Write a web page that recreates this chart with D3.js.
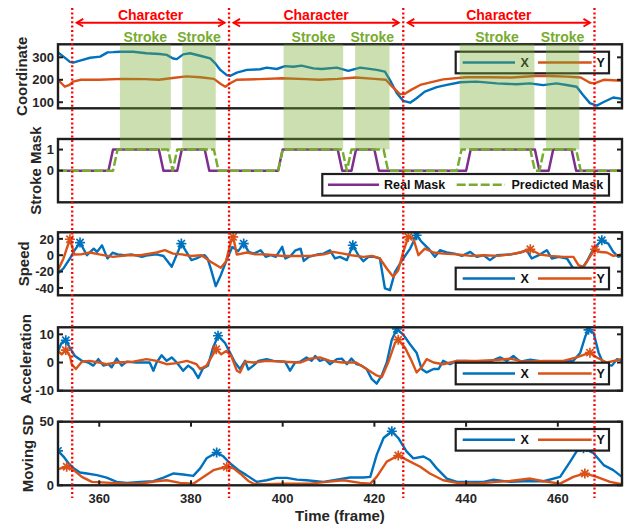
<!DOCTYPE html>
<html>
<head>
<meta charset="utf-8">
<script src="https://cdn.jsdelivr.net/npm/d3@7"></script>
<style>
  body { margin: 0; background: #fff; }
  svg { display: block; font-family: "Liberation Sans", Arial, sans-serif; font-weight: bold; }
</style>
</head>
<body>
<svg id="chart" width="631" height="529"></svg>
<script>
// ---- data: [frame, value] pairs ----
const frame_domain = [351, 474];
const frame_ticks = [360, 380, 400, 420, 440, 460];
const character_bounds = [354.1, 388.3, 426.3, 468];
const stroke_spans = [[364.5, 375.6], [378.1, 385.4], [400.2, 413.2], [415.8, 423.3], [438.6, 454.9], [457.4, 464.7]];

const coord_domain = [73, 358];
const coord_ticks = [100, 200, 300];
const coord_x = [[351,322],[352.2,303],[353.6,280],[354.3,276],[355.8,285],[358,298],[360.2,303],[361.8,322],[363,323],[364.5,325],[367.4,325],[370.3,318],[373.2,315],[374.7,311],[376.1,295],[376.9,292],[378.3,313],[379.8,318],[382,307],[384.2,295],[385.3,273],[386.4,244],[387.8,221],[388.5,217],[390,232],[392.2,244],[395.1,247],[396.5,254],[398.7,248],[400.5,261],[402.3,258],[404.1,263],[406.7,251],[408.5,248],[411.8,254],[414.3,240],[416.9,254],[420.5,244],[422.3,236],[423.4,199],[424.9,140],[426.3,106],[427.8,98],[429.2,118],[431,147],[433.6,167],[435.8,177],[438.7,189],[442.3,192],[446.7,184],[451,180],[453.9,184],[456.8,176],[459.7,184],[461.9,177],[464.1,169],[465.5,132],[467,96],[468.5,85],[469.9,100],[472.1,121],[474,115]];
const coord_y = [[351,200],[352.5,169],[353.5,177],[354.3,192],[356,200],[360,200],[365,204],[370,203],[373,200],[376,208],[379,215],[382,211],[385,204],[386.5,181],[387.5,169],[388.5,184],[390,200],[395,203],[400,207],[405,203],[408,200],[412,204],[416,210],[420,204],[422.5,200],[424,167],[425.5,137],[426.5,136],[428,155],[430,177],[432,187],[435,202],[440,211],[445,211],[450,210],[455,217],[458,217],[462,214],[465,210],[467,187],[468,184],[470,200],[474,196]];

const mask_domain = [-1.5, 1.5];
const mask_ticks = [0, 1];
const real_mask = [[351,0],[362,0],[363,1],[373,1],[374,0],[377,0],[378,1],[383,1],[384,0],[399,0],[400,1],[412,1],[413,0],[415,0],[416,1],[420,1],[421,0],[440,0],[441,1],[455,1],[456,0],[458,0],[459,1],[463,1],[464,0],[474,0]];
const predicted_mask = [[351,0],[363,0],[364,1],[375,1],[376,0],[377,1],[385,1],[386,0],[399,0],[400,1],[413,1],[414,0],[415,1],[422,1],[423,0],[438,0],[439,1],[454,1],[455,0],[456,0],[457,1],[464,1],[465,0],[474,0]];

const speed_domain = [-49, 28];
const speed_ticks = [-40, -20, 0, 20];
const speed_x = [[351,-22.3],[352.2,-16],[352.9,-10],[353.6,-4],[354.5,5],[355.8,15.5],[357.3,0],[358.8,8],[359.5,4],[360.6,12],[361.8,-4],[362.9,3],[364,1],[365.5,0],[367,1],[369.3,-2],[370.7,0],[372.5,1],[374,-1],[375.8,-14.2],[377.9,14.2],[379,4],[380.1,-6],[381.2,-4],[382.3,-1],[383,0],[383.6,-4],[384.3,-16],[385.4,-37.8],[386.5,-24.4],[387.9,-4],[389,10],[390.3,5],[391.5,14.2],[392.6,4],[393.7,2],[395.2,6.1],[396.3,-2],[397.4,0],[398.5,-2],[399.9,10.2],[400.6,-4],[401.7,-1],[402.8,6],[403.9,8],[404.6,-7],[405.7,-2],[407.5,0.8],[408.9,2],[410.3,6.1],[411.4,-4],[412.5,-2],[414,-6],[415.3,12.2],[416.5,0],[417.6,-7.3],[418.7,-2],[420,-2],[421.2,-4],[422.3,-40.6],[423.4,-42.7],[424.5,-20.3],[426.3,-4],[427.8,8.1],[429.2,24.4],[430.3,16.3],[431.8,8.1],[433.2,-2],[434.3,6.1],[435.8,3.3],[437.5,2],[439.1,-0.8],[440.9,4],[442.3,-2],[443.8,0],[445.2,-6],[446.7,0],[449.6,0.8],[451.8,3.3],[453.2,6.1],[454.3,-4],[456.1,0.8],[457.6,6.1],[458.7,-4],[460.2,-2],[462,-4],[463.4,-16.3],[464.8,-20],[466.3,-8],[467.8,8.1],[469.6,18.3],[471,14.2],[472.1,4],[473.2,-2],[474,0]];
const speed_y = [[351,-18.3],[352.2,-4],[352.9,8],[353.6,19.5],[354.6,0.8],[356,1],[358,3.3],[360,1],[363,-2],[366,0],[369,0],[372.5,3.3],[374.3,6.1],[376.1,2],[378,1],[380,-1],[382.3,0],[384.3,-8],[386.5,-15.4],[387.6,-8],[388.7,16.3],[389.2,22.4],[390,0.8],[392.2,3.3],[394,1],[396.5,1],[400,-1],[403.8,-1],[406,-0.8],[409,1],[411,4],[413.2,2],[415,0],[417.6,-2],[419.5,-0.8],[421.2,-4],[422.7,-16.3],[424.1,-26.4],[425.2,-18.3],[426.3,4],[427.4,22.4],[428.5,20.3],[429.6,0],[431,8.1],[432.9,3.3],[435,2],[438,1],[441,-0.8],[444,0],[447,-0.8],[449.6,1],[451.8,3.3],[454,7.3],[456.1,0.8],[458.3,-0.8],[461.2,-2],[463.4,-2],[464.5,-12.2],[465.6,-14.2],[467,-2],[468.1,7.3],[469.2,4],[470.7,3.3],[472.1,-0.8],[474,0.8]];
const speed_peaks_x = [[355.8,15.5],[377.9,14.2],[391.5,14.2],[415.3,12.2],[429.2,24.4],[469.6,18.3]];
const speed_peaks_y = [[353.6,19.5],[389.2,22.4],[427.4,22.4],[454,7.3],[468.1,7.3]];

const accel_domain = [-10, 12.5];
const accel_ticks = [-10, 0, 10];
const accel_x = [[351,4.1],[351.8,7],[352.7,7.9],[353.6,5.2],[354.7,2.3],[356.2,0.6],[357.6,0],[358.7,-1.1],[359.8,1.2],[360.9,-1.1],[362,-0.6],[362.7,-1.7],[363.8,1.4],[364.9,-1.1],[366,0.3],[368,0],[371,0],[371.8,-2.9],[372.5,0],[373.6,2.6],[374.7,0.6],[375.8,1.8],[376.9,0],[378.3,-2.9],[379.4,-1.1],[380.5,-2.5],[381.6,-5.5],[382.6,-2.1],[383.7,-1.1],[384.8,5.2],[385.9,9.5],[387.4,7],[388.5,3.5],[389.6,0],[390.7,-2.3],[391.8,0.6],[392.5,-2.5],[393.6,-1.1],[394.7,0.6],[396.5,1.2],[398,0.6],[400.5,0.3],[401.6,-2.9],[402.7,0],[403.8,0.3],[405.2,1.8],[406.3,0.6],[407.1,2.3],[408.1,0.6],[409.2,1.2],[410.3,-0.6],[411.8,1.2],[412.9,1.4],[414,-0.6],[415,1.4],[416.1,-0.6],[417.2,-1.1],[418.3,-2.3],[419.4,-5.8],[420.5,-7.5],[421.6,-4.6],[422.7,0],[423.8,8.1],[424.9,11.9],[426.3,9.9],[427.8,6.4],[429.2,3.5],[430.3,-2.3],[431.4,-3.5],[432.9,-2.3],[434,-2.3],[435,0.6],[436.5,-0.6],[438,0.6],[440.1,0.6],[442.3,0.3],[445.2,0.3],[447.4,1.8],[448.9,0.6],[450.3,2.3],[451.8,0.3],[454,1],[456.9,0.3],[459.8,0.3],[463.4,0.6],[464.9,3.5],[466,9.3],[466.7,11.6],[467.8,10.5],[468.9,3.5],[470,-0.6],[471.8,-1.1],[472.9,1.2],[474,0.6]];
const accel_y = [[351,4.1],[351.8,2.9],[352.7,4.4],[353.6,2.3],[354,-0.6],[354.9,-2.3],[356.2,0.3],[357.8,0.6],[360,0],[361.5,-0.6],[363.8,0],[367.4,0.3],[370.3,1.2],[372.5,0.6],[374.7,-0.6],[376.9,-0.2],[379.1,0.6],[381.2,-0.6],[382,-2.3],[383.4,-1.1],[384.8,2.9],[385.5,4.7],[386.6,2.9],[387.7,4.1],[388.8,2.3],[390,-2.9],[390.7,-3.5],[391.8,0.3],[393.6,0],[396.5,0.6],[400.1,0.3],[403.8,0],[406,1.4],[408.1,1.8],[410.3,0.6],[413,0],[416,0],[418.3,-2.3],[420.5,-4.6],[421.6,-5.2],[423,0],[424.5,7],[425.2,8.1],[426.7,5.2],[428.1,0.6],[429.2,-3.5],[430.3,-1.7],[431.4,1.2],[432.9,0],[435,-0.6],[438,0.6],[442.3,0.6],[446.7,0.9],[449.6,1.4],[452.5,0.3],[456.9,0.6],[461.2,0.6],[464.1,1.8],[467,3.5],[468.5,1.8],[470.7,0],[474,1.2]];
const accel_peaks_x = [[352.7,7.9],[385.9,9.5],[424.9,11.9],[466.7,11.6]];
const accel_peaks_y = [[352.7,4.4],[385.5,4.7],[425.2,8.1],[467,3.5]];

const sd_domain = [0, 50];
const sd_ticks = [0, 50];
const sd_x = [[351,27.1],[352.2,22.6],[353.3,17.3],[354.4,13.3],[355.8,10.1],[357.3,9.3],[359.5,8],[361.6,6.1],[363.8,2.7],[366,1.9],[368.9,2.7],[371.8,3.2],[374,6.1],[376.2,9.3],[378.3,8.5],[380.5,7.4],[382,13.3],[383.4,21.2],[385.6,25.8],[387.1,22.6],[388.5,17.3],[390.3,12],[392.1,8],[394.3,2.7],[396.5,4],[398.7,5.8],[400.9,5.8],[403.1,4.5],[405.2,4],[408.9,2.7],[411.8,4.5],[414.7,6.1],[417.6,6.1],[419.1,6.6],[420.5,23.9],[422,37.2],[423.8,42.5],[425.2,37.2],[427,26.6],[428.5,21.2],[430.7,22.6],[432.1,19.9],[433.6,13.3],[435.8,5.3],[438,2.7],[440.9,2.7],[443.8,2.7],[446,4.5],[449.6,2.7],[452.5,3.2],[456.9,3.2],[460.5,6.6],[462.7,18.6],[464.1,26.6],[465.6,29.2],[467.8,25.2],[470,15.9],[472.1,11.9],[474,6.6]];
const sd_y = [[351,12.7],[352.9,14.6],[354.4,11.9],[356.2,6.6],[358.4,2.7],[361.6,2.1],[365.3,1.3],[368.9,1.3],[372.5,3.2],[374.7,4],[377.6,1.9],[380.5,1.3],[382.7,6.6],[384.9,11.9],[387.8,14.6],[389.3,13.3],[390.7,9.3],[392.5,3.4],[393.9,0.8],[396.5,0.8],[400.1,1.3],[403.8,1.3],[406,1.3],[409.6,2.7],[413.2,4],[416.9,1.9],[419.1,1.3],[420.5,6.6],[422.7,18.6],[425.2,23.4],[427.8,18.6],[430,14.6],[432.1,9.3],[435,4],[438,1.9],[442.3,1.3],[446.7,2.7],[449.6,3.4],[454,5.3],[456.9,3.2],[460.5,1.3],[463.4,6.6],[465.9,9.3],[468.5,6.6],[471.4,2.7],[474,0.8]];
const sd_peaks_x = [[351,27.1],[385.6,25.8],[423.8,42.5],[465.6,29.2]];
const sd_peaks_y = [[352.9,14.6],[387.8,14.6],[425.2,23.4],[465.9,9.3]];

;((d3) => {

    'use strict';

    const BLUE = '#0072bd';
    const ORANGE = '#d95319';
    const PURPLE = '#7e2f8e';
    const GREEN = '#77ac30';
    const RED = '#ff0000';
    const INK = '#1e1e1e';

    const svg = d3.select('#chart');
    const x = d3.scaleLinear().domain(frame_domain).range([58, 622]);
    const line_for = (y) => d3.line().x(d => x(d[0])).y(d => y(d[1]));

    const xy_legend = [
        { name: 'X', color: BLUE, x0: 462.7, x1: 515, tx: 520.5 },
        { name: 'Y', color: ORANGE, x0: 538, x1: 591.7, tx: 596.5 }
    ];

    const panels = [
        { id: 'coord', top: 44.3, bottom: 108.3, domain: coord_domain, ticks: coord_ticks, label: 'Coordinate', label_x: 22,
          series: [{ data: coord_x, color: BLUE }, { data: coord_y, color: ORANGE }],
          legend: { top: 51.7, left: 455.7, right: 609, entries: xy_legend } },
        { id: 'mask', top: 139, bottom: 202.3, domain: mask_domain, ticks: mask_ticks, label: 'Stroke Mask', label_x: 36,
          series: [{ data: real_mask, color: PURPLE, width: 2.5 }, { data: predicted_mask, color: GREEN, width: 2.5, dash: '9,3' }],
          legend: { top: 174, left: 322.3, right: 609, entries: [
              { name: 'Real Mask', color: PURPLE, x0: 328, x1: 379, tx: 384 },
              { name: 'Predicted Mask', color: GREEN, x0: 456.7, x1: 505, tx: 511.5, dash: '9,3' }
          ] } },
        { id: 'speed', top: 232.3, bottom: 295.3, domain: speed_domain, ticks: speed_ticks, label: 'Speed', label_x: 24,
          series: [{ data: speed_x, color: BLUE, peaks: speed_peaks_x }, { data: speed_y, color: ORANGE, peaks: speed_peaks_y }],
          legend: { top: 267.7, left: 455.7, right: 609, entries: xy_legend } },
        { id: 'accel', top: 327.3, bottom: 390.7, domain: accel_domain, ticks: accel_ticks, label: 'Acceleration', label_x: 26,
          series: [{ data: accel_x, color: BLUE, peaks: accel_peaks_x }, { data: accel_y, color: ORANGE, peaks: accel_peaks_y }],
          legend: { top: 362.7, left: 455.7, right: 609, entries: xy_legend } },
        { id: 'sd', top: 421.7, bottom: 485.3, domain: sd_domain, ticks: sd_ticks, label: 'Moving SD', label_x: 28,
          series: [{ data: sd_x, color: BLUE, peaks: sd_peaks_x }, { data: sd_y, color: ORANGE, peaks: sd_peaks_y }],
          legend: { top: 429, left: 455.7, right: 609, entries: xy_legend }, x_axis: true }
    ];

    const defs = svg.append('defs');
    const star_path = 'M-5,0H5M0,-5V5M-3.6,-3.6L3.6,3.6M-3.6,3.6L3.6,-3.6';

    panels.forEach(p => {
        const y = d3.scaleLinear().domain(p.domain).range([p.bottom, p.top]);
        const g = svg.append('g').attr('class', `panel panel-${p.id}`);
        p.y = y;

        defs.append('clipPath').attr('id', `clip-${p.id}`)
            .append('rect')
            .attr('x', x.range()[0]).attr('y', p.top)
            .attr('width', x.range()[1] - x.range()[0]).attr('height', p.bottom - p.top);

        const plot = g.append('g').attr('clip-path', `url(#clip-${p.id})`);

        p.series.forEach(s => {
            plot.append('path')
                .datum(s.data)
                .attr('d', line_for(y))
                .attr('fill', 'none')
                .attr('stroke', s.color)
                .attr('stroke-width', s.width || 2.4)
                .attr('stroke-linejoin', 'round')
                .attr('stroke-dasharray', s.dash || null);
        });
        p.series.filter(s => s.peaks).forEach(s => {
            plot.selectAll(null)
                .data(s.peaks).enter()
                .append('path')
                .attr('transform', d => `translate(${x(d[0])},${y(d[1])})`)
                .attr('d', star_path)
                .attr('stroke', s.color)
                .attr('stroke-width', 1.7)
                .attr('fill', 'none');
        });

        // box with inward ticks on both sides (matlab style)
        g.append('rect')
            .attr('x', x.range()[0]).attr('y', p.top)
            .attr('width', x.range()[1] - x.range()[0]).attr('height', p.bottom - p.top)
            .attr('fill', 'none').attr('stroke', INK).attr('stroke-width', 2.4);

        p.ticks.forEach(t => {
            [[x.range()[0], 5], [x.range()[1], -5]].forEach(([x0, len]) => {
                g.append('line')
                    .attr('x1', x0).attr('x2', x0 + len)
                    .attr('y1', y(t)).attr('y2', y(t))
                    .attr('stroke', INK).attr('stroke-width', 2);
            });
            g.append('text')
                .attr('x', 54).attr('y', y(t)).attr('dy', '0.36em')
                .attr('text-anchor', 'end')
                .attr('font-size', 13).attr('fill', '#262626')
                .text(String(t));
        });

        g.append('text')
            .attr('transform', `translate(${p.label_x},${(p.top + p.bottom) / 2}) rotate(-90)`)
            .attr('text-anchor', 'middle').attr('dy', '0.36em')
            .attr('font-size', 15).attr('fill', '#262626')
            .text(p.label);

        if (p.x_axis) {
            frame_ticks.forEach(t => {
                [[p.bottom, -5], [p.top, 5]].forEach(([y0, len]) => {
                    g.append('line')
                        .attr('x1', x(t)).attr('x2', x(t))
                        .attr('y1', y0).attr('y2', y0 + len)
                        .attr('stroke', INK).attr('stroke-width', 2);
                });
                g.append('text')
                    .attr('x', x(t)).attr('y', 502.5)
                    .attr('text-anchor', 'middle')
                    .attr('font-size', 13).attr('fill', '#262626')
                    .text(t);
            });
            g.append('text')
                .attr('x', (x.range()[0] + x.range()[1]) / 2).attr('y', 521)
                .attr('text-anchor', 'middle')
                .attr('font-size', 15).attr('fill', '#262626')
                .text('Time (frame)');
        }

        // legend
        const lg = p.legend, lh = 21.6, cy = lg.top + lh / 2;
        const leg = g.append('g').attr('class', 'legend');
        leg.append('rect')
            .attr('x', lg.left).attr('y', lg.top)
            .attr('width', lg.right - lg.left).attr('height', lh)
            .attr('fill', '#fff').attr('stroke', INK).attr('stroke-width', 2.2);
        lg.entries.forEach(e => {
            leg.append('line')
                .attr('x1', e.x0).attr('x2', e.x1).attr('y1', cy).attr('y2', cy)
                .attr('stroke', e.color).attr('stroke-width', 2.5)
                .attr('stroke-dasharray', e.dash || null);
            leg.append('text')
                .attr('x', e.tx).attr('y', cy).attr('dy', '0.36em')
                .attr('font-size', 12.5).attr('fill', '#111')
                .text(e.name);
        });
    });

    // stroke bands span from the coordinate panel top down to mask = 1
    const mask_panel = panels[1];
    const band_top = panels[0].top;
    const band_bottom = mask_panel.y(1);

    svg.append('g').attr('class', 'stroke-bands')
        .selectAll('rect')
        .data(stroke_spans).enter()
        .append('rect')
        .attr('x', d => x(d[0]))
        .attr('width', d => x(d[1]) - x(d[0]))
        .attr('y', band_top)
        .attr('height', band_bottom - band_top)
        .attr('fill', GREEN)
        .attr('fill-opacity', 0.38);

    svg.append('g').attr('class', 'stroke-labels')
        .selectAll('text')
        .data(stroke_spans).enter()
        .append('text')
        .attr('x', d => x((d[0] + d[1]) / 2))
        .attr('y', 41.5)
        .attr('text-anchor', 'middle')
        .attr('font-size', 14)
        .attr('fill', GREEN)
        .text('Stroke');

    // character boundaries
    svg.append('g').attr('class', 'char-bounds')
        .selectAll('line')
        .data(character_bounds).enter()
        .append('line')
        .attr('x1', d => x(d)).attr('x2', d => x(d))
        .attr('y1', 8).attr('y2', 498)
        .attr('stroke', RED)
        .attr('stroke-width', 2.3)
        .attr('stroke-dasharray', '2,2.4');

    const char_pairs = d3.pairs(character_bounds);
    const arrows = svg.append('g').attr('class', 'char-arrows')
        .attr('stroke', RED).attr('stroke-width', 1.9).attr('fill', 'none');

    char_pairs.forEach(([a, b]) => {
        const x0 = x(a) + 4.5, x1 = x(b) - 4.5, ay = 22.7;
        arrows.append('line').attr('x1', x0).attr('x2', x1).attr('y1', ay).attr('y2', ay);
        arrows.append('path').attr('d', `M${x0 + 6.5},${ay - 3.8}L${x0},${ay}L${x0 + 6.5},${ay + 3.8}`);
        arrows.append('path').attr('d', `M${x1 - 6.5},${ay - 3.8}L${x1},${ay}L${x1 - 6.5},${ay + 3.8}`);
        svg.append('text')
            .attr('x', x((a + b) / 2)).attr('y', 20)
            .attr('text-anchor', 'middle')
            .attr('font-size', 14)
            .attr('fill', RED)
            .text('Character');
    });

})(window.d3);
</script>
</body>
</html>
